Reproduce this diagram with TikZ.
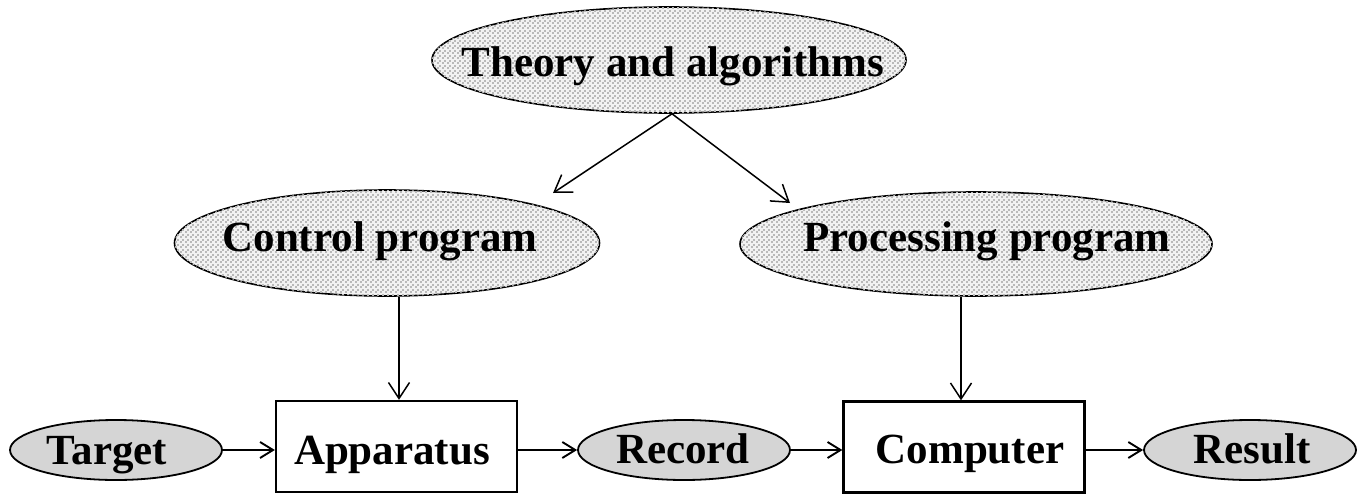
\documentclass[tikz,border=0pt]{standalone}
\usepackage{fontspec}
\setmainfont{Liberation Serif}
\usetikzlibrary{shapes.geometric,arrows.meta,patterns}
\pgfdeclarepatternformonly{mydots}{\pgfpointorigin}{\pgfqpoint{4.6pt}{4.6pt}}{\pgfqpoint{4.6pt}{4.6pt}}{%
  \pgfpathrectangle{\pgfqpoint{0pt}{0pt}}{\pgfqpoint{1.9pt}{1.9pt}}%
  \pgfpathrectangle{\pgfqpoint{2.3pt}{2.3pt}}{\pgfqpoint{1.9pt}{1.9pt}}%
  \pgfusepath{fill}}
\begin{document}
\begin{tikzpicture}[x=1pt,y=-1pt,
  bigell/.style={ellipse,draw,line width=1.6pt,inner sep=0pt,fill=gray!10,
     postaction={pattern=mydots,pattern color=gray!55}},
  smallell/.style={ellipse,draw,line width=1.8pt,inner sep=0pt,fill=gray!33,
     minimum width=212pt,minimum height=60pt},
  box/.style={rectangle,draw,line width=2.3pt,inner sep=0pt,
     minimum width=241pt,minimum height=91pt},
  txt/.style={anchor=base,inner sep=0pt,font=\fontsize{43}{50}\selectfont\bfseries},
  arr/.style={line width=1.5pt,-{Straight Barb[length=16pt,width=21pt,line width=1.5pt]}},
  harr/.style={line width=1.9pt,-{Straight Barb[length=13pt,width=16pt,line width=1.9pt]}}]
\useasboundingbox (0,0) rectangle (1364,495);
% shapes
\node[bigell,minimum width=474pt,minimum height=106pt] (theory) at (669,60) {};
\node[bigell,minimum width=425pt,minimum height=106pt] (ctrl) at (387,243) {};
\node[bigell,minimum width=472pt,minimum height=104pt] (proc) at (976,244) {};
\node[smallell] (target) at (116,450) {};
\node[smallell] (record) at (684,450) {};
\node[smallell] (result) at (1250,450) {};
\node[box] (app) at (396.5,446.5) {};
\node[box] (comp) at (964,447) {};
% texts
\node[txt] (ttheory) at (673,76) {Theory and algorithms};
\node[txt] (tctrl) at (380,251) {Control program};
\node[txt] (tproc) at (987,251) {Processing program};
\node[txt] (ttarget) at (107,464) {Target};
\node[txt] (trecord) at (683,463) {Record};
\node[txt] (tresult) at (1252,463) {Result};
\node[txt] (tapp) at (392,464) {Apparatus};
\node[txt] (tcomp) at (970,463) {Computer};
% connectors
\coordinate (dl) at (553,193);
\coordinate (dr) at (790,203);
\draw[arr] ([xshift=3pt]theory.south) -- (dl);
\draw[arr] ([xshift=3pt]theory.south) -- (dr);
\draw[arr] ([xshift=2.5pt]app.north |- ctrl.south) -- ([xshift=2.5pt]app.north);
\draw[arr] ([xshift=-3pt]comp.north |- proc.south) -- ([xshift=-3pt]comp.north);
\draw[harr] (target.east) -- (app.west |- target.east);
\draw[harr] (app.east |- record.west) -- (record.west);
\draw[harr] (record.east) -- (comp.west |- record.east);
\draw[harr] (comp.east |- result.west) -- (result.west);
\end{tikzpicture}
\end{document}
